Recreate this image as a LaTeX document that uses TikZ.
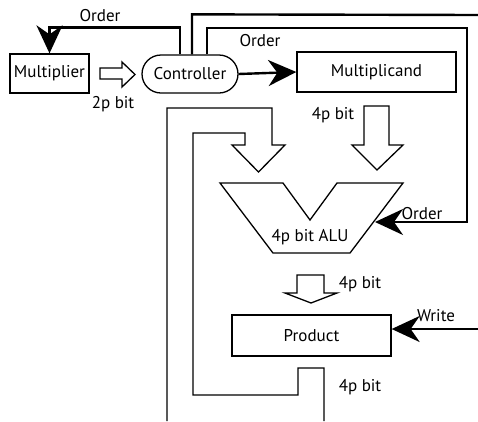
\documentclass[tikz,border=0pt]{standalone}
\usepackage{fontspec}
\setmainfont{PT Sans}
\usetikzlibrary{arrows.meta,shapes.misc,calc}
\tikzset{
  box/.style={draw,line width=1.3pt,rectangle,inner sep=0pt},
  conn/.style={line width=2.4pt},
  bigtip/.style={-{Stealth[length=28pt,width=26pt,inset=9pt]}},
  hollow/.style={draw,line width=1.3pt,fill=white,line join=miter},
  lbl/.style={font=\fontsize{17}{19}\selectfont,inner sep=0pt},
}
\begin{document}
\begin{tikzpicture}[x=1pt,y=-1pt]
\useasboundingbox (0,0) rectangle (478,421);
\fill[white] (0,0) rectangle (478,421);
% nodes
\node[box,minimum width=79pt,minimum height=39pt,font=\fontsize{17}{19}\selectfont] (mult) at (49.5,73.5) {Multiplier};
\node[draw,line width=1.3pt,rounded rectangle,minimum width=96pt,minimum height=38pt,inner sep=0pt,font=\fontsize{17}{19}\selectfont] (ctrl) at (190,74) {Controller};
\node[box,minimum width=159pt,minimum height=40pt,font=\fontsize{17}{19}\selectfont] (mcand) at (376.5,72) {Multiplicand};
\node[box,minimum width=159pt,minimum height=41pt,font=\fontsize{17}{19}\selectfont] (prod) at (311.5,335.5) {Product};
% ALU
\draw[line width=1.3pt,line join=miter] (220,183) -- (283,183) -- (310,220) -- (337,183) -- (403,183) -- (350,253) -- (273,253) -- cycle;
\node[lbl] (alu) at (310,237) {4p bit ALU};
\coordinate (aluorder) at (375,222);
% free ends
\coordinate (e1) at (478,15);
\coordinate (w) at (478,329);
% connectors
\draw[conn,bigtip] ([xshift=-10pt]ctrl.north) -- ++(0,-27) -| (mult.north);
\draw[conn] ([xshift=2pt]ctrl.north) -- ++(0,-40) -- (e1);
\draw[conn,bigtip] ([xshift=17pt]ctrl.north) |- (467,28) |- (aluorder);
\draw[conn,bigtip] (ctrl.east) -- (mcand.west);
\draw[conn,bigtip] (w) -- (w -| prod.east);
% hollow arrows
\draw[hollow] (100,68) -- (122,68) -- (122,62) -- (135,74.5) -- (122,87) -- (122,79) -- (100,79) -- cycle;
\draw[hollow] (364,106) -- (389,106) -- (389,145) -- (403,145) -- (377,170) -- (352,145) -- (364,145) -- cycle;
\draw[hollow] (297,275) -- (324,275) -- (324,293) -- (337,293) -- (311,303) -- (285,293) -- (297,293) -- cycle;
\draw[line width=1.3pt,line join=miter] (167,421) -- (167,108) -- (272,108) -- (272,145) -- (285,145) -- (258.5,172) -- (232,145) -- (245,145) -- (245,133) -- (193,133) -- (193,395) -- (298,395) -- (298,368) -- (324,368) -- (324,421);
% labels
\node[lbl] at (100,16) {Order};
\node[lbl] at (113,104) {2p bit};
\node[lbl] at (260,41) {Order};
\node[lbl] at (333,115) {4p bit};
\node[lbl] at (422,214) {Order};
\node[lbl] at (360,284) {4p bit};
\node[lbl] at (436,316) {Write};
\node[lbl] at (360,387) {4p bit};
\end{tikzpicture}
\end{document}
